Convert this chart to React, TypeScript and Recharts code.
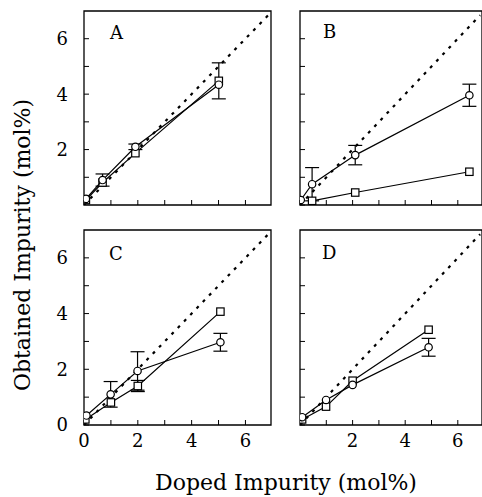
import { ErrorBar, ReferenceArea, Scatter, ScatterChart, XAxis, YAxis } from "recharts";

const TICKS = [0, 1, 2, 3, 4, 5, 6];
const IDENTITY = [
  { x: 0, y: 0 },
  { x: 6.85, y: 6.85 },
];

const circlesA = [
  { x: 0.07, y: 0.22 },
  { x: 0.69, y: 0.9, err: 0.22 },
  { x: 1.91, y: 2.1, err: 0.1 },
  { x: 5.01, y: 4.34 },
];
const squaresA = [
  { x: 0.07, y: 0.18 },
  { x: 0.69, y: 0.81 },
  { x: 1.91, y: 1.87 },
  { x: 5.01, y: 4.48, err: 0.65 },
];

const circlesB = [
  { x: 0.03, y: 0.18 },
  { x: 0.46, y: 0.75, err: 0.6 },
  { x: 2.1, y: 1.8, err: 0.35 },
  { x: 6.44, y: 3.96, err: 0.4 },
];
const squaresB = [
  { x: 0.46, y: 0.15 },
  { x: 2.1, y: 0.45 },
  { x: 6.44, y: 1.2 },
];

const circlesC = [
  { x: 0.09, y: 0.34 },
  { x: 0.99, y: 1.1, err: 0.46 },
  { x: 1.99, y: 1.94, err: 0.69 },
  { x: 5.07, y: 2.97, err: 0.32 },
];
const squaresC = [
  { x: 0.05, y: 0.2 },
  { x: 1.0, y: 0.81 },
  { x: 2.0, y: 1.4, err: 0.2 },
  { x: 5.07, y: 4.07 },
];

const circlesD = [
  { x: 0.08, y: 0.28 },
  { x: 0.99, y: 0.9 },
  { x: 2.0, y: 1.44 },
  { x: 4.89, y: 2.79, err: 0.32 },
];
const squaresD = [
  { x: 0.08, y: 0.2 },
  { x: 0.99, y: 0.66 },
  { x: 2.0, y: 1.59 },
  { x: 4.89, y: 3.42 },
];

const FONT = "'DejaVu Serif', serif";

const circleShape = (p: any) => (
  <circle cx={p.cx} cy={p.cy} r={3.7} fill="#fff" stroke="#000" strokeWidth={1.2} />
);
const squareShape = (p: any) => (
  <rect x={p.cx - 3.7} y={p.cy - 3.7} width={7.4} height={7.4} fill="#fff" stroke="#000" strokeWidth={1.2} />
);
const noShape = () => <g />;

const evenLabel = (v: number) => (v % 2 === 0 ? String(v) : "");
const blank = () => "";

interface PanelProps {
  circles: { x: number; y: number; err?: number }[];
  squares: { x: number; y: number; err?: number }[];
  left: number;
  top: number;
  plotW: number;
  plotH: number;
  xMax: number;
  showX: boolean;
  showY: boolean;
}

function Panel({ circles, squares, left, top, plotW, plotH, xMax, showX, showY }: PanelProps) {
  const yW = showY ? 44 : 2;
  const xH = showX ? 30 : 2;
  const mTop = 3;
  const mRight = showY ? 3 : 0;
  const tickStyle = { fontSize: 18, fill: "#000", fontFamily: FONT };
  return (
    <div style={{ position: "absolute", left: left - yW, top: top - mTop }}>
      <ScatterChart
        width={yW + plotW + mRight}
        height={mTop + plotH + xH}
        margin={{ top: mTop, right: mRight, bottom: 0, left: 0 }}
      >
        <XAxis
          type="number"
          dataKey="x"
          domain={[0, xMax]}
          allowDataOverflow
          ticks={TICKS}
          height={xH}
          axisLine={false}
          tickLine={{ stroke: "#000", strokeWidth: 1 }}
          tickSize={-5}
          tickMargin={14.5}
          tick={tickStyle}
          tickFormatter={showX ? evenLabel : blank}
        />
        <YAxis
          type="number"
          dataKey="y"
          domain={[0, 7]}
          allowDataOverflow
          ticks={TICKS}
          width={yW}
          axisLine={false}
          tickLine={{ stroke: "#000", strokeWidth: 1 }}
          tickSize={-5}
          tickMargin={21}
          tick={tickStyle}
          tickFormatter={showY ? evenLabel : blank}
        />
        <ReferenceArea x1={0} x2={xMax} y1={0} y2={7} fill="none" stroke="#000" strokeWidth={1.3} ifOverflow="visible" />
        <Scatter
          data={IDENTITY}
          line={{ stroke: "#000", strokeWidth: 2.2, strokeDasharray: "3 6" }}
          shape={noShape}
          isAnimationActive={false}
        />
        <Scatter
          data={squares}
          line={{ stroke: "#000", strokeWidth: 1.2 }}
          shape={squareShape}
          isAnimationActive={false}
        >
          <ErrorBar dataKey="err" direction="y" width={7} stroke="#000" strokeWidth={1.2} />
        </Scatter>
        <Scatter
          data={circles}
          line={{ stroke: "#000", strokeWidth: 1.2 }}
          shape={circleShape}
          isAnimationActive={false}
        >
          <ErrorBar dataKey="err" direction="y" width={7} stroke="#000" strokeWidth={1.2} />
        </Scatter>
      </ScatterChart>
    </div>
  );
}

export default function App() {
  return (
    <div
      style={{
        position: "absolute",
        left: 0,
        top: 0,
        width: 482,
        height: 497,
        background: "#fff",
        overflow: "hidden",
        fontFamily: FONT,
      }}
    >
      <Panel circles={circlesA} squares={squaresA} left={84} top={11} plotW={187} plotH={194} xMax={6.95} showX={false} showY />
      <Panel circles={circlesB} squares={squaresB} left={300} top={11} plotW={182} plotH={194} xMax={6.92} showX={false} showY={false} />
      <Panel circles={circlesC} squares={squaresC} left={84} top={230} plotW={187} plotH={195} xMax={6.95} showX showY />
      <Panel circles={circlesD} squares={squaresD} left={300} top={230} plotW={182} plotH={195} xMax={6.92} showX showY={false} />
      <svg
        width={482}
        height={497}
        style={{ position: "absolute", left: 0, top: 0, pointerEvents: "none" }}
        fontFamily={FONT}
      >
        <text x={110} y={39} fontSize={18}>A</text>
        <text x={323} y={38} fontSize={18}>B</text>
        <text x={109} y={260} fontSize={18}>C</text>
        <text x={322} y={259} fontSize={18}>D</text>
        <text x={286} y={490} fontSize={22} textAnchor="middle">Doped Impurity (mol%)</text>
        <text transform="translate(30,245) rotate(-90)" fontSize={22} textAnchor="middle">
          Obtained Impurity (mol%)
        </text>
      </svg>
    </div>
  );
}
